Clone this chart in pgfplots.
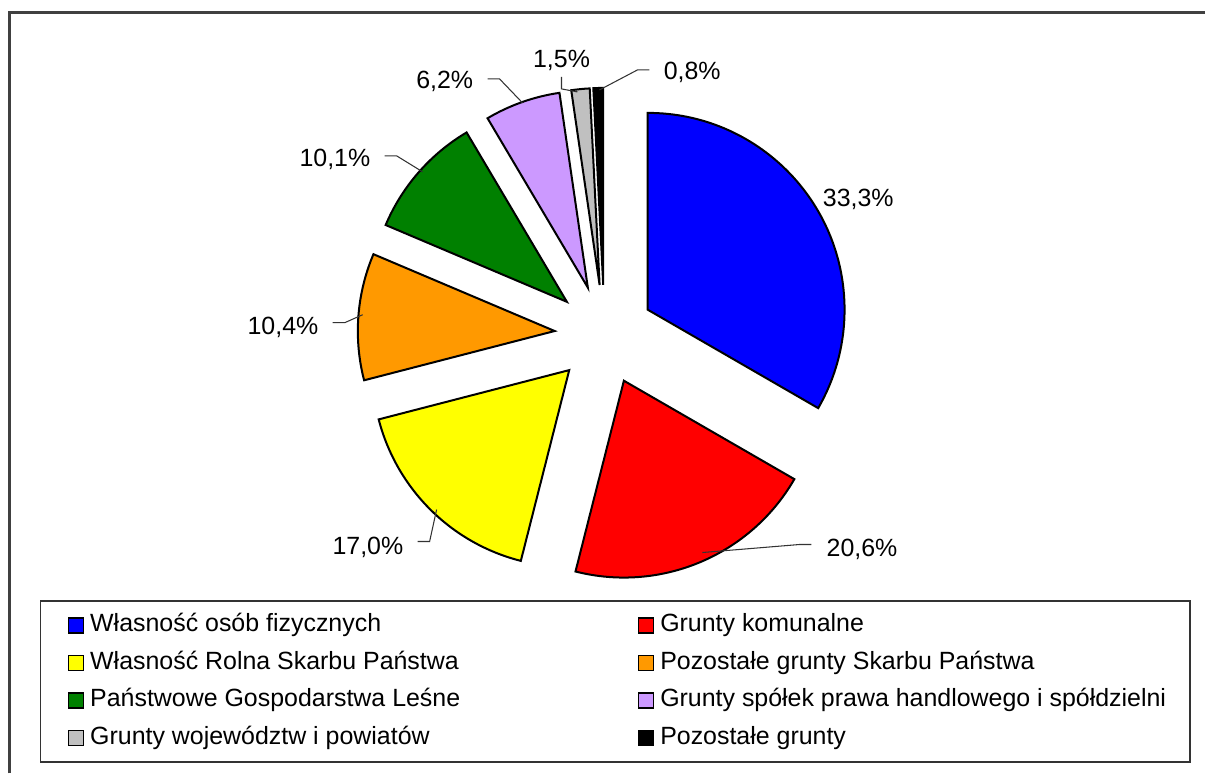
\documentclass[border=0pt]{standalone}
\usepackage{pgfplots}
\pgfplotsset{compat=1.18}
\usepackage{pgfplotstable}
\usepackage{fontspec}
\setmainfont{Liberation Sans}

\definecolor{pblue}{RGB}{0,0,255}
\definecolor{pred}{RGB}{255,0,0}
\definecolor{pyellow}{RGB}{255,255,0}
\definecolor{porange}{RGB}{255,153,0}
\definecolor{pgreen}{RGB}{0,128,0}
\definecolor{ppurple}{RGB}{204,153,255}
\definecolor{pgray}{RGB}{192,192,192}
\definecolor{pblack}{RGB}{0,0,0}

% udzial procentowy form wlasnosci
\pgfplotstableread{
share col
33.3 pblue
20.6 pred
17.0 pyellow
10.4 porange
10.1 pgreen
6.2 ppurple
1.5 pgray
0.8 pblack
}\piedata

\begin{document}
\begin{tikzpicture}[font=\fontsize{7.1pt}{8.4pt}\selectfont]
  \begin{axis}[
      width=120.6mm, height=77.4mm, scale only axis,
      xmin=0, xmax=1206, ymin=0, ymax=774, y dir=reverse,
      hide axis, clip=false,
      legend columns=2, legend cell align=left,
      legend image code/.code={\draw[#1,draw=black,line width=0.45pt] (0mm,-0.75mm) rectangle (1.5mm,0.75mm);},
      legend style={at={(axis cs:40,601)}, anchor=north west,
        draw=black!80, line width=0.4pt,
        inner xsep=2.7mm, inner ysep=1.3mm, row sep=1.5mm,
        nodes={inner sep=0pt, text height=1.75mm, text depth=0.5mm},
        /tikz/every odd column/.append style={column sep=0.6mm}},
    ]
    % suma udzialow
    \pgfplotstablegetrowsof{\piedata}
    \pgfmathtruncatemacro\lastrow{\pgfplotsretval-1}
    \gdef\pietotal{0}
    \pgfplotsforeachungrouped \i in {0,...,\lastrow}{
      \pgfplotstablegetelem{\i}{share}\of\piedata
      \pgfmathsetmacro\tmp{\pietotal+\pgfplotsretval}
      \xdef\pietotal{\tmp}
    }
    % wycinki, zgodnie z ruchem wskazowek zegara od godz. 12
    \gdef\curang{90}
    \pgfplotsforeachungrouped \i in {0,...,\lastrow}{
      \pgfplotstablegetelem{\i}{share}\of\piedata
      \let\sliceval\pgfplotsretval
      \pgfplotstablegetelem{\i}{col}\of\piedata
      \let\slicecol\pgfplotsretval
      \pgfmathsetmacro\sa{\curang}
      \pgfmathsetmacro\sb{\curang-360*\sliceval/\pietotal}
      \pgfmathsetmacro\sm{(\sa+\sb)/2}
      \edef\temp{\noexpand\filldraw[fill=\slicecol, draw=black, line width=0.57pt, line join=miter]
        ([shift={(\sm:5mm)}]axis cs:605,335) -- ++(\sa:19.7mm)
        arc[start angle=\sa, end angle=\sb, radius=19.7mm] -- cycle;}
      \temp
      \xdef\curang{\sb}
    }

    % etykiety i linie odniesienia
    \draw[line width=0.3pt, black!80] (axis cs:703,553) -- (axis cs:800,545) -- (axis cs:812,545);
    \draw[line width=0.3pt, black!80] (axis cs:418,542) -- (axis cs:430,542) -- (axis cs:437,510);
    \draw[line width=0.3pt, black!80] (axis cs:333,323) -- (axis cs:345,323) -- (axis cs:363,315);
    \draw[line width=0.3pt, black!80] (axis cs:385,156) -- (axis cs:397,156) -- (axis cs:423,172);
    \draw[line width=0.3pt, black!80] (axis cs:488,79) -- (axis cs:500,79) -- (axis cs:523,103);
    \draw[line width=0.3pt, black!80] (axis cs:562,77) -- (axis cs:562,89) -- (axis cs:578,92);
    \draw[line width=0.3pt, black!80] (axis cs:650,70) -- (axis cs:638,70) -- (axis cs:600,90);

    \node at (axis cs:859,200) {33,3\%};
    \node[anchor=west] at (axis cs:815,550) {20,6\%};
    \node[anchor=east] at (axis cs:416,548) {17,0\%};
    \node[anchor=east] at (axis cs:331,328) {10,4\%};
    \node[anchor=east] at (axis cs:383,160) {10,1\%};
    \node[anchor=east] at (axis cs:486,81) {6,2\%};
    \node at (axis cs:562,61) {1,5\%};
    \node[anchor=west] at (axis cs:652,72) {0,8\%};

    % ramka wykresu
    \draw[line width=0.6pt, black!75] (axis cs:9.5,774) -- (axis cs:9.5,12.5) -- (axis cs:1206,12.5);
    \path (axis cs:0,0) (axis cs:1206,774);

    \addlegendimage{fill=pblue}
    \addlegendentry{\makebox[54.8mm][l]{Własność osób fizycznych}}
    \addlegendimage{fill=pred}
    \addlegendentry{\makebox[50.3mm][l]{Grunty komunalne}}
    \addlegendimage{fill=pyellow}
    \addlegendentry{\makebox[54.8mm][l]{Własność Rolna Skarbu Państwa}}
    \addlegendimage{fill=porange}
    \addlegendentry{\makebox[50.3mm][l]{Pozostałe grunty Skarbu Państwa}}
    \addlegendimage{fill=pgreen}
    \addlegendentry{\makebox[54.8mm][l]{Państwowe Gospodarstwa Leśne}}
    \addlegendimage{fill=ppurple}
    \addlegendentry{\makebox[50.3mm][l]{Grunty spółek prawa handlowego i spółdzielni}}
    \addlegendimage{fill=pgray}
    \addlegendentry{\makebox[54.8mm][l]{Grunty województw i powiatów}}
    \addlegendimage{fill=pblack}
    \addlegendentry{\makebox[50.3mm][l]{Pozostałe grunty}}
  \end{axis}
\end{tikzpicture}
\end{document}
